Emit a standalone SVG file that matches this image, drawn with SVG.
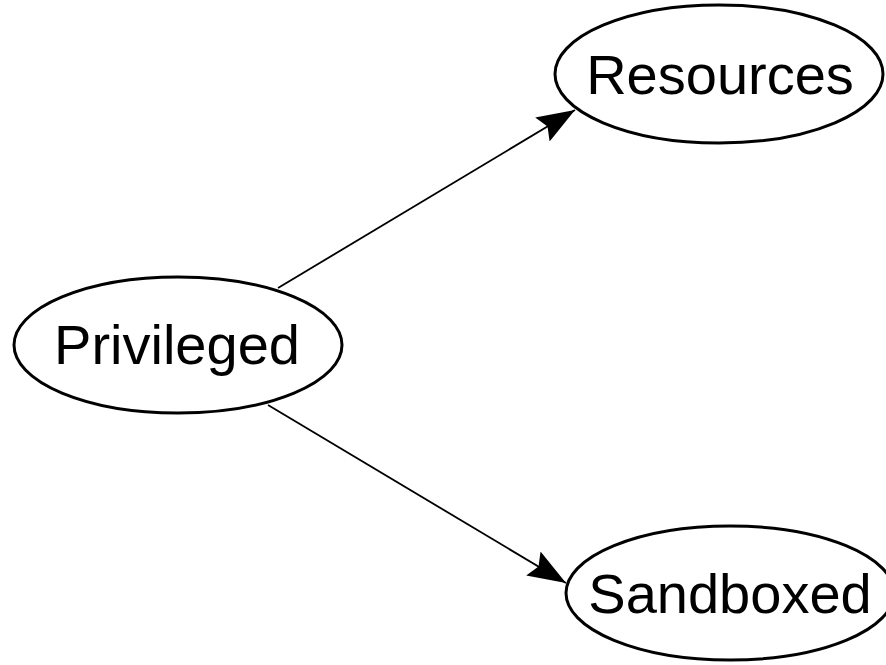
<svg xmlns="http://www.w3.org/2000/svg" width="886" height="665" viewBox="0 0 886 665">
<style>
.node ellipse{fill:#fff;stroke:#000;stroke-width:3}
.node text{font-family:"Liberation Sans",Arial,sans-serif;font-size:56px;fill:#000;text-anchor:middle}
.edge{stroke:#000;stroke-width:1.8;fill:none;marker-end:url(#ah)}
</style>
<defs>
<marker id="ah" markerUnits="userSpaceOnUse" markerWidth="44" markerHeight="32" refX="38" refY="14" orient="auto">
<path d="M0,0 L38,14 L0,28 L6,14 Z" fill="#000"/>
</marker>
</defs>
<rect width="886" height="665" fill="#fff"/>
<g id="connectors">
<line class="edge" x1="278" y1="288" x2="575" y2="110"/>
<line class="edge" x1="268" y1="405" x2="566" y2="583"/>
</g>
<g id="privileged" class="node">
<ellipse cx="178" cy="345" rx="164" ry="68"/>
<text x="177" y="364">Privileged</text>
</g>
<g id="resources" class="node">
<ellipse cx="719" cy="74" rx="164" ry="69"/>
<text x="720" y="94">Resources</text>
</g>
<g id="sandboxed" class="node">
<ellipse cx="730" cy="593" rx="164" ry="67"/>
<text x="730" y="613">Sandboxed</text>
</g>
</svg>
